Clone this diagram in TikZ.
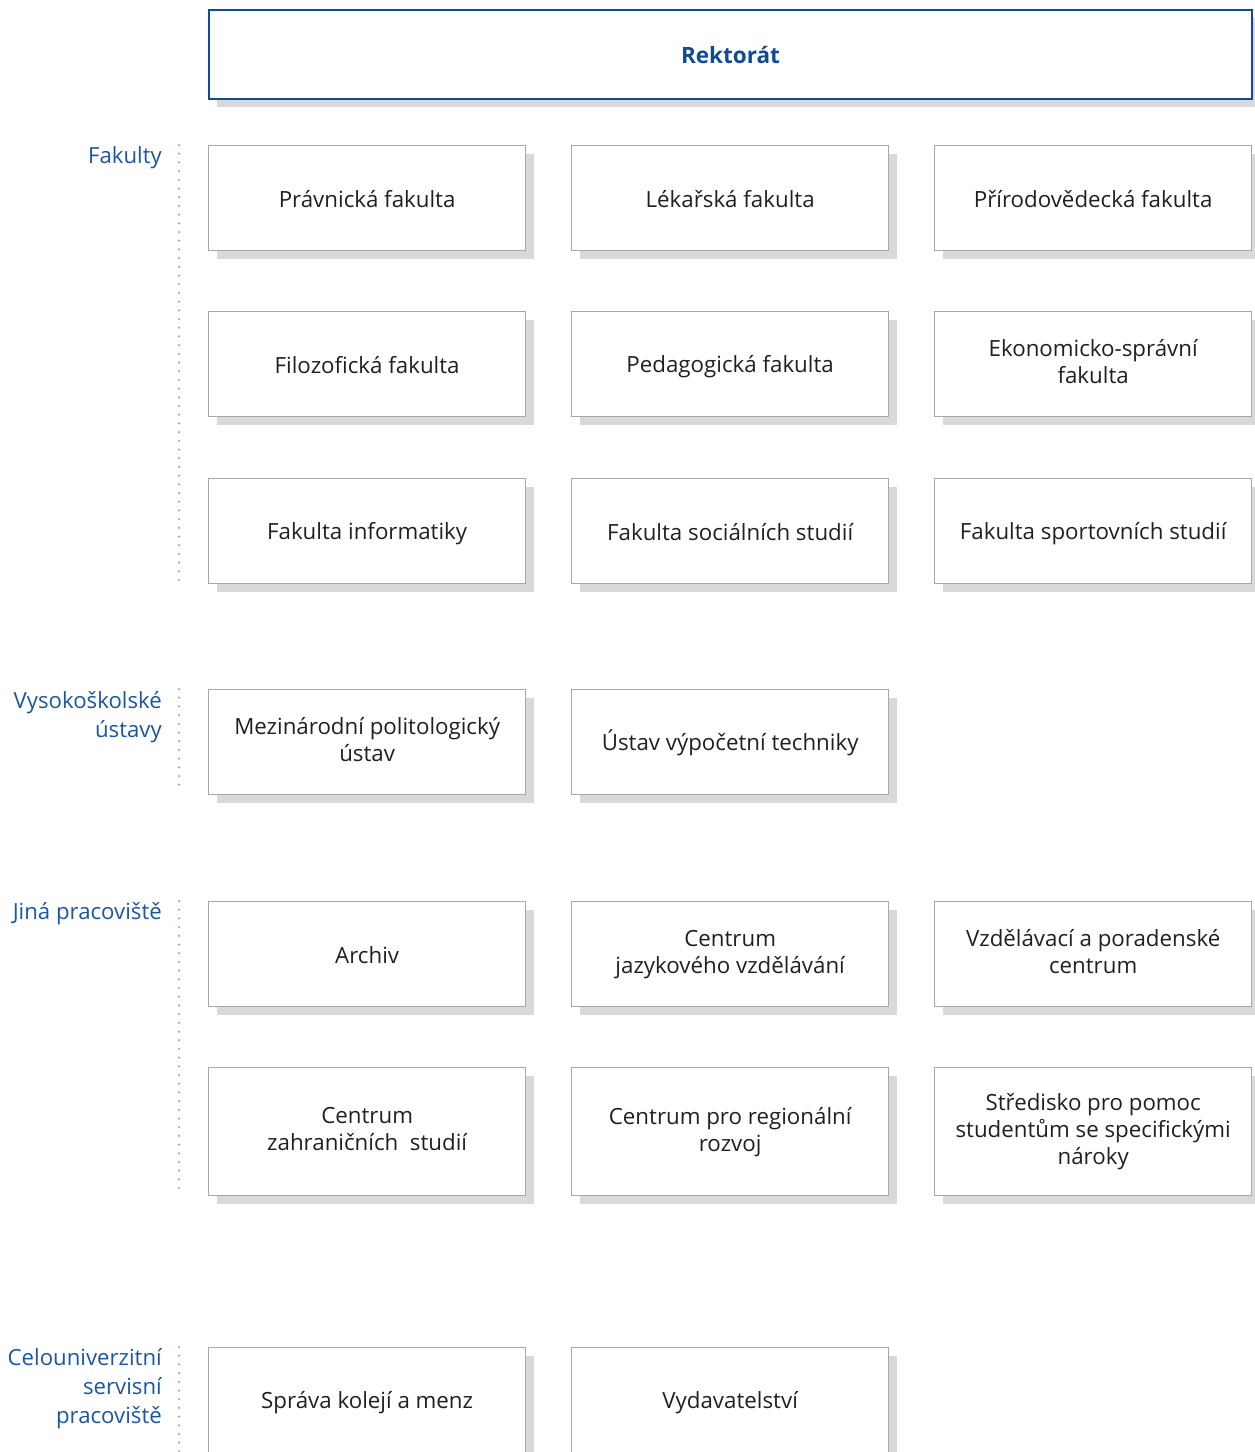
\documentclass[tikz,border=0pt]{standalone}
\usepackage{fontspec}
\setmainfont{Open Sans}
\usetikzlibrary{shadows}
\definecolor{munblue}{HTML}{0F4C96}
\definecolor{lblblue}{HTML}{1B56A0}
\definecolor{boxgray}{HTML}{A8A8A8}
\definecolor{shadowgray}{HTML}{D8D9DA}
\definecolor{txtgray}{HTML}{231F20}
\definecolor{dotgray}{HTML}{A8A8A8}
\newcommand{\boxstrut}{\rule[-4.5pt]{0pt}{27pt}}
\begin{document}
\begin{tikzpicture}[x=1pt,y=-1pt,
  unitbox/.style={draw=boxgray, line width=1.3pt, fill=white, anchor=north west,
    minimum width=317pt, minimum height=105pt, inner sep=0pt, align=center,
    text=txtgray, font=\fontsize{22.3}{27}\selectfont,
    execute at begin node=\boxstrut, execute at end node=\boxstrut,
    drop shadow={shadow xshift=8pt, shadow yshift=-8pt, fill=shadowgray, opacity=1}},
  grouplabel/.style={anchor=north east, align=right, inner sep=0pt, text=lblblue,
    font=\fontsize{22.2}{29}\selectfont},
  dotline/.style={draw=dotgray, line width=2.5pt, line cap=round, dash pattern=on 0pt off 8.7pt}]
\useasboundingbox (0,0) rectangle (1255,1452);
\clip (0,0) rectangle (1255,1452);

% Rektorat
\node[draw=munblue, line width=2pt, fill=white, anchor=north west, minimum width=1043pt,
  minimum height=89pt, inner sep=0pt, text=munblue, font=\fontsize{22.5}{27}\selectfont\bfseries,
  drop shadow={shadow xshift=8pt, shadow yshift=-8pt, fill=shadowgray, opacity=1}]
  (rekt) at (208,9) {Rektorát};

% Fakulty
\node[unitbox] (pf)   at (208,145) {Právnická fakulta};
\node[unitbox] (lf)   at (571,145) {Lékařská fakulta};
\node[unitbox] (prf)  at (934,145) {Přírodovědecká fakulta};
\node[unitbox] (ff)   at (208,311) {Filozofická fakulta};
\node[unitbox] (pdf)  at (571,311) {Pedagogická fakulta};
\node[unitbox] (esf)  at (934,311) {Ekonomicko-správní\\fakulta};
\node[unitbox] (fi)   at (208,478) {Fakulta informatiky};
\node[unitbox] (fss)  at (571,478) {Fakulta sociálních studií};
\node[unitbox] (fsps) at (934,478) {Fakulta sportovních studií};

% Vysokoskolske ustavy
\node[unitbox] (mpu) at (208,689) {Mezinárodní politologický\\ústav};
\node[unitbox] (uvt) at (571,689) {Ústav výpočetní techniky};

% Jina pracoviste
\node[unitbox] (arch) at (208,901) {Archiv};
\node[unitbox] (cjv)  at (571,901) {Centrum\\jazykového vzdělávání};
\node[unitbox] (vpc)  at (934,901) {Vzdělávací a poradenské\\centrum};
\node[unitbox, minimum height=128pt] (czs) at (208,1067) {Centrum\\zahraničních\ \ studií};
\node[unitbox, minimum height=128pt] (crr) at (571,1067) {Centrum pro regionální\\rozvoj};
\node[unitbox, minimum height=128pt] (ssp) at (934,1067) {Středisko pro pomoc\\studentům se specifickými\\nároky};

% Celouniverzitni servisni pracoviste
\node[unitbox] (skm) at (208,1347) {Správa kolejí a menz};
\node[unitbox] (vyd) at (571,1347) {Vydavatelství};

% Group labels
\node[grouplabel] (lfak) at (162,146) {Fakulty};
\node[grouplabel] (lvu)  at (162,691) {Vysokoškolské\\ústavy};
\node[grouplabel] (ljp)  at (162,902) {Jiná pracoviště};
\node[grouplabel] (lcsp) at (162,1348) {Celouniverzitní\\servisní\\pracoviště};

% Dotted separators
\coordinate (d1a) at (179,145);  \coordinate (d1b) at (179,580);
\coordinate (d2a) at (179,689);  \coordinate (d2b) at (179,790);
\coordinate (d3a) at (179,901);  \coordinate (d3b) at (179,1190);
\coordinate (d4a) at (179,1347); \coordinate (d4b) at (179,1452);
\draw[dotline] (d1a) -- (d1b);
\draw[dotline] (d2a) -- (d2b);
\draw[dotline] (d3a) -- (d3b);
\draw[dotline] (d4a) -- (d4b);
\end{tikzpicture}
\end{document}
